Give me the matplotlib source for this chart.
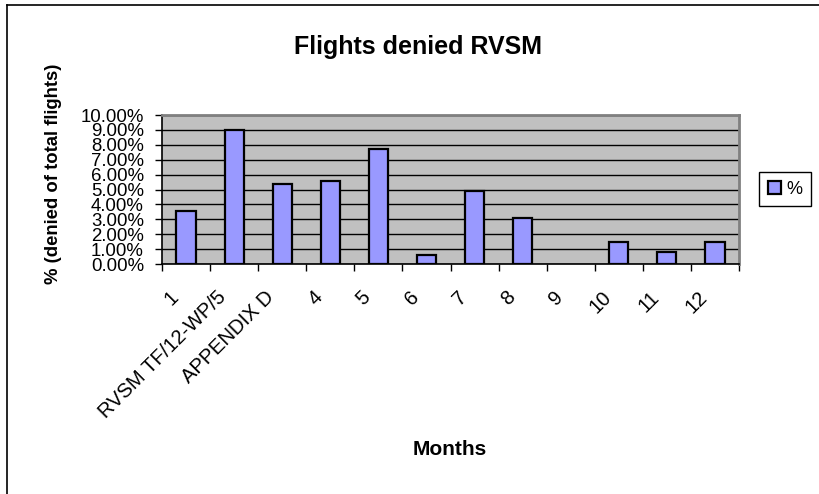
import matplotlib.pyplot as plt
import matplotlib.ticker as mticker
from matplotlib.lines import Line2D
from matplotlib.transforms import ScaledTranslation

plt.rcParams["font.family"] = ["Liberation Sans", "DejaVu Sans"]

categories = ["1", "RVSM TF/12-WP/5", "APPENDIX D", "4", "5", "6", "7", "8",
              "9", "10", "11", "12"]
denied_pct = [0.0353, 0.0898, 0.0535, 0.0560, 0.0770, 0.0060, 0.0493, 0.0310,
              0.0, 0.0149, 0.0082, 0.0149]
y_ticks = [i / 100 for i in range(0, 11)]

W, H = 819, 494
fig = plt.figure(figsize=(W / 100, H / 100), dpi=100)
fig.patch.set_facecolor("white")

# chart area border: only the top and left edges fall inside the picture
bx, by = 6.5 / W, 1 - 5.5 / H
fig.add_artist(Line2D([bx, bx], [0, by], transform=fig.transFigure,
                      color="black", linewidth=1.2))
fig.add_artist(Line2D([bx, 1], [by, by], transform=fig.transFigure,
                      color="black", linewidth=1.2))

ax = fig.add_axes([162 / W, 1 - 264 / H, 577 / W, 149 / H])
ax.set_facecolor("#C0C0C0")

x = range(len(categories))
edge_w = [1.6 if v > 0 else 0 for v in denied_pct]
ax.bar(x, denied_pct, width=0.4, color="#9999FF", edgecolor="black",
       linewidth=edge_w, label="%", zorder=3)

ax.set_xlim(-0.5, len(categories) - 0.5)
ax.set_ylim(0, 0.10)
ax.set_yticks(y_ticks)
ax.yaxis.set_major_formatter(mticker.FuncFormatter(lambda v, p: f"{v * 100:.2f}%"))
ax.grid(axis="y", color="black", linewidth=1.0, zorder=1)
ax.set_axisbelow(True)

ax.set_xticks(list(x))
ax.set_xticklabels(categories, rotation=45, ha="right", va="top")
ax.set_xticks([i - 0.5 for i in range(len(categories) + 1)], minor=True)
ax.tick_params(axis="x", which="major", length=0, pad=17, labelsize=14.5)
ax.tick_params(axis="x", which="minor", length=5, direction="out", width=1)
ax.tick_params(axis="y", length=5, direction="out", width=1, pad=8, labelsize=13.4)

# nudge the slanted labels a little to the left, like Excel places them
shift = ScaledTranslation(-0.04, 0, fig.dpi_scale_trans)
for lbl in ax.get_xticklabels():
    lbl.set_transform(lbl.get_transform() + shift)

for side in ("left", "bottom"):
    ax.spines[side].set_color("black")
    ax.spines[side].set_linewidth(1.2)
for side in ("top", "right"):
    ax.spines[side].set_color("#808080")
    ax.spines[side].set_linewidth(2)

fig.text(418 / W, 1 - 47 / H, "Flights denied RVSM", ha="center", va="center",
         fontsize=18, fontweight="bold")
fig.text(450 / W, 1 - 449 / H, "Months", ha="center", va="center",
         fontsize=15, fontweight="bold")
fig.text(54 / W, 1 - 174 / H, "% (denied of total flights)", ha="center",
         va="center", rotation=90, fontsize=13.3, fontweight="bold")

leg = ax.legend(loc="center", bbox_to_anchor=(785 / W, 1 - 189 / H),
                bbox_transform=fig.transFigure, fontsize=13, frameon=True,
                fancybox=False, framealpha=1, edgecolor="black",
                handlelength=0.75, handleheight=0.75, handletextpad=0.3,
                borderpad=0.45, borderaxespad=0)
leg.get_frame().set_linewidth(1)

fig.savefig("out.png", dpi=100)
